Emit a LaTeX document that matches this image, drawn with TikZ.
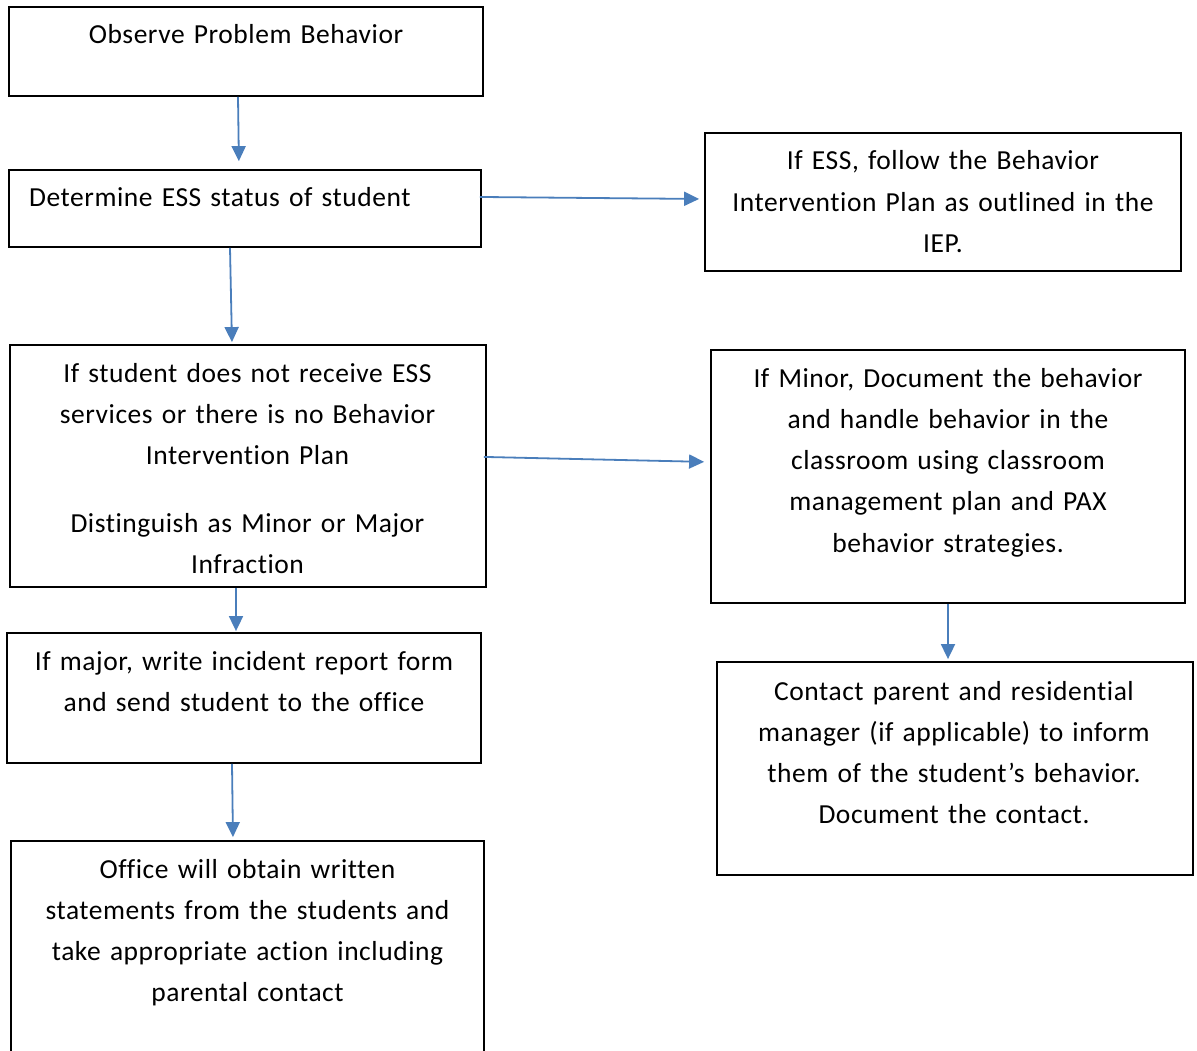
\documentclass[tikz,border=0pt]{standalone}
\usepackage{fontspec}
\setmainfont{Carlito}[Ligatures=NoCommon, LetterSpace=2]
\usetikzlibrary{arrows.meta}
\definecolor{arrowblue}{RGB}{74,126,187}
\tikzset{
  box/.style={draw=black, line width=1.8pt, rectangle, inner sep=0pt},
  txt/.style={text width=470pt, align=center, anchor=base, inner sep=0pt, font=\fontsize{27.5}{41.3}\selectfont},
  arr/.style={draw=arrowblue, line width=1.8pt, -{Triangle[length=15pt,width=14pt]}}
}
\begin{document}
\begin{tikzpicture}[x=1pt,y=-1pt]
\useasboundingbox (0,0) rectangle (1197,1051);
% boxes
\node[box, minimum width=474pt, minimum height=89pt] (b1) at (246,51.5) {};
\node[box, minimum width=472pt, minimum height=77pt] (b2) at (245,208.5) {};
\node[box, minimum width=476pt, minimum height=138pt] (b3) at (943,202) {};
\node[box, minimum width=476pt, minimum height=242pt] (b4) at (248,466) {};
\node[box, minimum width=474pt, minimum height=253pt] (b5) at (948,476.5) {};
\node[box, minimum width=474pt, minimum height=130pt] (b6) at (244,698) {};
\node[box, minimum width=476pt, minimum height=213pt] (b7) at (955,768.5) {};
\node[box, minimum width=473pt, minimum height=240pt] (b8) at (247.5,961) {};
% texts
\node[txt] (t1) at (246,44) {Observe Problem Behavior};
\node[txt, text width=450pt, align=left, anchor=base west] (t2) at (29,207) {Determine ESS status of student};
\node[txt] (t3) at (943,170) {If ESS, follow the Behavior\\ Intervention Plan as outlined in the\\ IEP.};
\node[txt] (t4) at (247.5,382) {If student does not receive ESS\\ services or there is no Behavior\\ Intervention Plan\\[26.7pt] Distinguish as Minor or Major\\ Infraction};
\node[txt] (t5) at (948,387) {If Minor, Document the behavior\\ and handle behavior in the\\ classroom using classroom\\ management plan and PAX\\ behavior strategies.};
\node[txt] (t6) at (244,670) {If major, write incident report form\\ and send student to the office};
\node[txt] (t7) at (954,700) {Contact parent and residential\\ manager (if applicable) to inform\\ them of the student’s behavior.\\ Document the contact.};
\node[txt] (t8) at (247.5,878) {Office will obtain written\\ statements from the students and\\ take appropriate action including\\ parental contact};
% arrows
\draw[arr, shorten >=8pt] ([xshift=-8pt]b1.south) -- ([xshift=-6pt]b2.north);
\draw[arr, shorten <=-2pt, shorten >=5pt] ([yshift=11.5pt]b2.east) -- ([yshift=3pt]b3.west);
\draw[arr, shorten >=2pt] ([xshift=-15pt]b2.south) -- ([xshift=-16pt]b4.north);
\draw[arr, shorten <=-3pt, shorten >=6pt] ([yshift=9pt]b4.east) -- ([yshift=14.5pt]b5.west);
\draw[arr, shorten >=1pt] ([xshift=-12pt]b4.south) -- ([xshift=-8pt]b6.north);
\draw[arr, shorten >=2pt] (b5.south) -- ([xshift=-7pt]b7.north);
\draw[arr, shorten >=3pt] ([xshift=-12pt]b6.south) -- ([xshift=-14.5pt]b8.north);
\end{tikzpicture}
\end{document}
